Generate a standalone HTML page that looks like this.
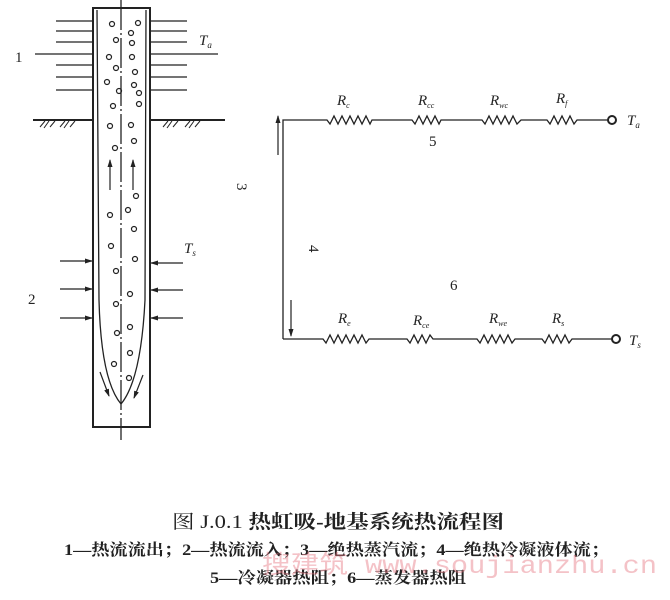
<!DOCTYPE html>
<html><head><meta charset="utf-8"><style>
body{margin:0;background:#fff;width:670px;height:600px;overflow:hidden;position:relative}
</style></head><body>
<svg width="670" height="600" style="position:absolute;left:0;top:0" font-family="Liberation Serif, serif">
<defs><marker id="ah" markerWidth="8" markerHeight="8" refX="7" refY="4" orient="auto" markerUnits="userSpaceOnUse"><path d="M0,1.5 L8,4 L0,6.5 Z" fill="#222"/></marker></defs>
<g stroke="#222" fill="none">
<rect x="93" y="8" width="57" height="419" stroke-width="2"/>
<line x1="121" y1="0" x2="121" y2="440" stroke-width="1.3" stroke-dasharray="30,3,2,3"/>
<path d="M97,10 L99,300 Q101,380 121,404 Q141,380 145,300 L146,10" stroke-width="1.3"/>
<g stroke-width="1.3">
<line x1="56" y1="21" x2="93" y2="21"/><line x1="56" y1="31" x2="93" y2="31"/><line x1="56" y1="42" x2="93" y2="42"/><line x1="35" y1="54" x2="93" y2="54"/><line x1="56" y1="65" x2="93" y2="65"/><line x1="56" y1="77" x2="93" y2="77"/><line x1="56" y1="90" x2="93" y2="90"/>
<line x1="150" y1="21" x2="187" y2="21"/><line x1="150" y1="31" x2="187" y2="31"/><line x1="150" y1="42" x2="187" y2="42"/><line x1="150" y1="54" x2="218" y2="54"/><line x1="150" y1="65" x2="187" y2="65"/><line x1="150" y1="77" x2="187" y2="77"/><line x1="150" y1="90" x2="187" y2="90"/>
</g>
<line x1="33" y1="120" x2="93" y2="120" stroke-width="2"/><line x1="150" y1="120" x2="225" y2="120" stroke-width="2"/>
<path d="M40,127 L45,121 M44,128 L49,121 M50,127 L55,121 M60,127 L65,121 M64,128 L69,121 M70,127 L75,121 M163,127 L168,121 M167,128 L172,121 M173,127 L178,121 M185,127 L190,121 M189,128 L194,121 M195,127 L200,121" stroke-width="1"/>
<g stroke-width="1.2" marker-end="url(#ah)">
<line x1="60" y1="261" x2="92" y2="261"/><line x1="60" y1="289" x2="92" y2="289"/><line x1="60" y1="318" x2="92" y2="318"/>
<line x1="183" y1="263" x2="151" y2="263"/><line x1="183" y1="290" x2="151" y2="290"/><line x1="183" y1="318" x2="151" y2="318"/>
<line x1="110" y1="190" x2="110" y2="160"/><line x1="133" y1="190" x2="133" y2="160"/>
<line x1="100" y1="372" x2="109" y2="396"/><line x1="143" y1="375" x2="134" y2="398"/>
<line x1="278" y1="155" x2="278" y2="116"/><line x1="291" y1="300" x2="291" y2="336"/>
</g>
<g stroke-width="1.2">
<circle cx="112" cy="24" r="2.5"/><circle cx="138" cy="23" r="2.5"/><circle cx="131" cy="33" r="2.5"/><circle cx="116" cy="40" r="2.5"/><circle cx="132" cy="43" r="2.5"/><circle cx="109" cy="57" r="2.5"/><circle cx="132" cy="57" r="2.5"/><circle cx="116" cy="68" r="2.5"/><circle cx="135" cy="72" r="2.5"/><circle cx="107" cy="82" r="2.5"/><circle cx="134" cy="85" r="2.5"/><circle cx="119" cy="91" r="2.5"/><circle cx="139" cy="93" r="2.5"/><circle cx="113" cy="106" r="2.5"/><circle cx="139" cy="104" r="2.5"/><circle cx="110" cy="126" r="2.5"/><circle cx="131" cy="125" r="2.5"/><circle cx="115" cy="148" r="2.5"/><circle cx="134" cy="141" r="2.5"/><circle cx="136" cy="196" r="2.5"/><circle cx="128" cy="210" r="2.5"/><circle cx="110" cy="215" r="2.5"/><circle cx="134" cy="229" r="2.5"/><circle cx="111" cy="246" r="2.5"/><circle cx="135" cy="259" r="2.5"/><circle cx="116" cy="271" r="2.5"/><circle cx="130" cy="294" r="2.5"/><circle cx="116" cy="304" r="2.5"/><circle cx="130" cy="327" r="2.5"/><circle cx="117" cy="333" r="2.5"/><circle cx="130" cy="353" r="2.5"/><circle cx="114" cy="364" r="2.5"/><circle cx="129" cy="378" r="2.5"/>
</g>
<g stroke-width="1.3">
<path d="M283,339 L283,120 L327,120 l3,4 l4,-8 l4,8 l4,-8 l4,8 l4,-8 l4,8 l4,-8 l4,8 l4,-8 l4,8 l2,-4 L412,120 l3,4 l4,-8 l4,8 l4,-8 l4,8 l4,-8 l4,8 l2,-4 L482,120 l3,4 l4,-8 l4,8 l4,-8 l4,8 l4,-8 l4,8 l4,-8 l4,8 l4,-4 L547,120 l3,4 l4,-8 l4,8 l4,-8 l4,8 l4,-8 l4,8 l3,-4 L608,120"/>
<circle cx="612" cy="120" r="4" stroke-width="2"/>
<path d="M283,339 L323,339 l3,4 l4,-8 l4,8 l4,-8 l4,8 l4,-8 l4,8 l4,-8 l4,8 l4,-8 l4,8 l3,-4 L407,339 l3,4 l4,-8 l4,8 l4,-8 l4,8 l4,-8 l3,4 L477,339 l3,4 l4,-8 l4,8 l4,-8 l4,8 l4,-8 l4,8 l4,-8 l4,8 l3,-4 L542,339 l3,4 l4,-8 l4,8 l4,-8 l4,8 l4,-8 l4,8 l3,-4 L612,339"/>
<circle cx="616" cy="339" r="4" stroke-width="2"/>
</g>
</g>
<g fill="#222" font-size="15">
<text x="15" y="62">1</text><text x="28" y="304">2</text>
<text x="199" y="45" font-style="italic">T<tspan font-size="9" dy="3">a</tspan></text>
<text x="184" y="253" font-style="italic">T<tspan font-size="9" dy="3">s</tspan></text>
<text x="227" y="183" transform="rotate(90 232 188)">3</text>
<text x="299" y="245" transform="rotate(90 304 250)">4</text>
<text x="429" y="146">5</text><text x="450" y="290">6</text>
<g font-style="italic">
<text x="337" y="105">R<tspan font-size="8" dy="3">c</tspan></text>
<text x="418" y="105">R<tspan font-size="8" dy="3">cc</tspan></text>
<text x="490" y="105">R<tspan font-size="8" dy="3">wc</tspan></text>
<text x="556" y="103">R<tspan font-size="8" dy="3">f</tspan></text>
<text x="627" y="125">T<tspan font-size="9" dy="3">a</tspan></text>
<text x="338" y="323">R<tspan font-size="8" dy="3">e</tspan></text>
<text x="413" y="325">R<tspan font-size="8" dy="3">ce</tspan></text>
<text x="489" y="323">R<tspan font-size="8" dy="3">we</tspan></text>
<text x="552" y="323">R<tspan font-size="8" dy="3">s</tspan></text>
<text x="629" y="345">T<tspan font-size="9" dy="3">s</tspan></text>
</g>
</g>
<g font-family="Liberation Serif, Noto Serif CJK SC, serif" fill="#222">
<text x="172" y="528" font-size="19" textLength="332" lengthAdjust="spacingAndGlyphs">图 J.0.1 <tspan font-weight="bold">热虹吸-地基系统热流程图</tspan></text>
<text x="64" y="555" font-size="16" font-weight="bold" textLength="545" lengthAdjust="spacingAndGlyphs">1—热流流出；2—热流流入；3—绝热蒸汽流；4—绝热冷凝液体流；</text>
<text x="210" y="583" font-size="16" font-weight="bold" textLength="256" lengthAdjust="spacingAndGlyphs">5—冷凝器热阻；6—蒸发器热阻</text>
</g>
<text x="262" y="573" font-size="25" fill="rgba(230,120,130,0.45)" font-family="Liberation Mono, Noto Sans CJK SC, monospace" textLength="395" lengthAdjust="spacingAndGlyphs">搜建筑 www.soujianzhu.cn</text>
</svg>
</body></html>
